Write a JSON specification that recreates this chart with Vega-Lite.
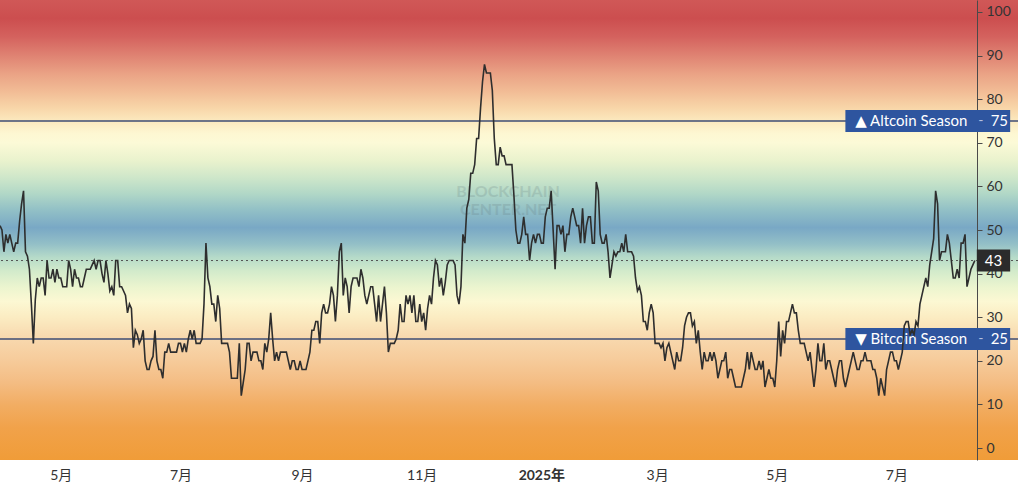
{
  "$schema": "https://vega.github.io/schema/vega-lite/v6.json",
  "width": 1018,
  "height": 460,
  "autosize": {"type": "none"},
  "padding": {"left": 0, "top": 0, "right": 6, "bottom": 29},
  "background": "white",
  "view": {
    "stroke": null,
    "fill": {
      "gradient": "linear", "x1": 0, "y1": 0, "x2": 0, "y2": 1,
      "stops": [
        {"offset": 0.0, "color": "#d05857"},
        {"offset": 0.04, "color": "#cc4e4f"},
        {"offset": 0.08, "color": "#d4625e"},
        {"offset": 0.12, "color": "#df8272"},
        {"offset": 0.16, "color": "#eaa285"},
        {"offset": 0.2, "color": "#f2bd96"},
        {"offset": 0.235, "color": "#f8d6a9"},
        {"offset": 0.26, "color": "#fbe7bc"},
        {"offset": 0.29, "color": "#fdf7d2"},
        {"offset": 0.31, "color": "#fcfad7"},
        {"offset": 0.35, "color": "#e9f2cd"},
        {"offset": 0.385, "color": "#cfe7ca"},
        {"offset": 0.42, "color": "#b2d8c7"},
        {"offset": 0.455, "color": "#93c1c6"},
        {"offset": 0.495, "color": "#79a8c5"},
        {"offset": 0.53, "color": "#93bfc7"},
        {"offset": 0.56, "color": "#b6dbc9"},
        {"offset": 0.59, "color": "#d3ebcb"},
        {"offset": 0.625, "color": "#ecf5cf"},
        {"offset": 0.655, "color": "#fcf8d3"},
        {"offset": 0.69, "color": "#fbecc2"},
        {"offset": 0.73, "color": "#f8dab0"},
        {"offset": 0.78, "color": "#f6cc9c"},
        {"offset": 0.83, "color": "#f4bd84"},
        {"offset": 0.88, "color": "#f2ad63"},
        {"offset": 0.93, "color": "#f1a24a"},
        {"offset": 1.0, "color": "#f09c38"}
      ]
    }
  },
  "config": {
    "font": "Lato, 'DejaVu Sans', 'Noto Sans CJK SC', sans-serif",
    "view": {"stroke": null},
    "scale": {"continuousPadding": 0}
  },
  "datasets": {
    "series": [
      {"date":"2024-03-31","v":51},
      {"date":"2024-04-01","v":50},{"date":"2024-04-02","v":45},{"date":"2024-04-03","v":49},{"date":"2024-04-04","v":47},{"date":"2024-04-05","v":49},{"date":"2024-04-06","v":47},{"date":"2024-04-07","v":45},{"date":"2024-04-08","v":47},{"date":"2024-04-09","v":47},{"date":"2024-04-10","v":52},
      {"date":"2024-04-11","v":56},{"date":"2024-04-12","v":59},{"date":"2024-04-13","v":45},{"date":"2024-04-14","v":44},{"date":"2024-04-15","v":41},{"date":"2024-04-16","v":33},{"date":"2024-04-17","v":24},{"date":"2024-04-18","v":34},{"date":"2024-04-19","v":39},{"date":"2024-04-20","v":37},
      {"date":"2024-04-21","v":39},{"date":"2024-04-22","v":39},{"date":"2024-04-23","v":35},{"date":"2024-04-24","v":43},{"date":"2024-04-25","v":39},{"date":"2024-04-26","v":39},{"date":"2024-04-27","v":41},{"date":"2024-04-28","v":38},{"date":"2024-04-29","v":41},{"date":"2024-04-30","v":39},
      {"date":"2024-05-01","v":39},{"date":"2024-05-02","v":37},{"date":"2024-05-03","v":37},{"date":"2024-05-04","v":37},{"date":"2024-05-05","v":43},{"date":"2024-05-06","v":41},{"date":"2024-05-07","v":37},{"date":"2024-05-08","v":41},{"date":"2024-05-09","v":39},{"date":"2024-05-10","v":39},
      {"date":"2024-05-11","v":37},{"date":"2024-05-12","v":37},{"date":"2024-05-13","v":39},{"date":"2024-05-14","v":41},{"date":"2024-05-15","v":41},{"date":"2024-05-16","v":41},{"date":"2024-05-17","v":42},{"date":"2024-05-18","v":43},{"date":"2024-05-19","v":41},{"date":"2024-05-20","v":43},
      {"date":"2024-05-21","v":43},{"date":"2024-05-22","v":40},{"date":"2024-05-23","v":38},{"date":"2024-05-24","v":43},{"date":"2024-05-25","v":40},{"date":"2024-05-26","v":36},{"date":"2024-05-27","v":37},{"date":"2024-05-28","v":35},{"date":"2024-05-29","v":43},{"date":"2024-05-30","v":43},{"date":"2024-05-31","v":37},
      {"date":"2024-06-01","v":37},{"date":"2024-06-02","v":36},{"date":"2024-06-03","v":35},{"date":"2024-06-04","v":31},{"date":"2024-06-05","v":33},{"date":"2024-06-06","v":32},{"date":"2024-06-07","v":23},{"date":"2024-06-08","v":27},{"date":"2024-06-09","v":26},{"date":"2024-06-10","v":24},
      {"date":"2024-06-11","v":25},{"date":"2024-06-12","v":27},{"date":"2024-06-13","v":20},{"date":"2024-06-14","v":18},{"date":"2024-06-15","v":18},{"date":"2024-06-16","v":20},{"date":"2024-06-17","v":21},{"date":"2024-06-18","v":27},{"date":"2024-06-19","v":20},{"date":"2024-06-20","v":18},
      {"date":"2024-06-21","v":18},{"date":"2024-06-22","v":16},{"date":"2024-06-23","v":22},{"date":"2024-06-24","v":22},{"date":"2024-06-25","v":24},{"date":"2024-06-26","v":22},{"date":"2024-06-27","v":22},{"date":"2024-06-28","v":22},{"date":"2024-06-29","v":22},{"date":"2024-06-30","v":24},
      {"date":"2024-07-01","v":24},{"date":"2024-07-02","v":22},{"date":"2024-07-03","v":24},{"date":"2024-07-04","v":22},{"date":"2024-07-05","v":25},{"date":"2024-07-06","v":27},{"date":"2024-07-07","v":25},{"date":"2024-07-08","v":27},{"date":"2024-07-09","v":24},{"date":"2024-07-10","v":24},
      {"date":"2024-07-11","v":24},{"date":"2024-07-12","v":25},{"date":"2024-07-13","v":33},{"date":"2024-07-14","v":47},{"date":"2024-07-15","v":39},{"date":"2024-07-16","v":37},{"date":"2024-07-17","v":33},{"date":"2024-07-18","v":33},{"date":"2024-07-19","v":29},{"date":"2024-07-20","v":35},
      {"date":"2024-07-21","v":32},{"date":"2024-07-22","v":24},{"date":"2024-07-23","v":24},{"date":"2024-07-24","v":24},{"date":"2024-07-25","v":24},{"date":"2024-07-26","v":22},{"date":"2024-07-27","v":16},{"date":"2024-07-28","v":16},{"date":"2024-07-29","v":16},{"date":"2024-07-30","v":16},{"date":"2024-07-31","v":24},
      {"date":"2024-08-01","v":12},{"date":"2024-08-02","v":15},{"date":"2024-08-03","v":18},{"date":"2024-08-04","v":24},{"date":"2024-08-05","v":24},{"date":"2024-08-06","v":20},{"date":"2024-08-07","v":22},{"date":"2024-08-08","v":22},{"date":"2024-08-09","v":22},{"date":"2024-08-10","v":20},
      {"date":"2024-08-11","v":20},{"date":"2024-08-12","v":18},{"date":"2024-08-13","v":24},{"date":"2024-08-14","v":22},{"date":"2024-08-15","v":25},{"date":"2024-08-16","v":31},{"date":"2024-08-17","v":25},{"date":"2024-08-18","v":20},{"date":"2024-08-19","v":22},{"date":"2024-08-20","v":20},
      {"date":"2024-08-21","v":22},{"date":"2024-08-22","v":22},{"date":"2024-08-23","v":22},{"date":"2024-08-24","v":22},{"date":"2024-08-25","v":20},{"date":"2024-08-26","v":18},{"date":"2024-08-27","v":20},{"date":"2024-08-28","v":20},{"date":"2024-08-29","v":18},{"date":"2024-08-30","v":18},{"date":"2024-08-31","v":20},
      {"date":"2024-09-01","v":18},{"date":"2024-09-02","v":18},{"date":"2024-09-03","v":18},{"date":"2024-09-04","v":20},{"date":"2024-09-05","v":22},{"date":"2024-09-06","v":27},{"date":"2024-09-07","v":27},{"date":"2024-09-08","v":29},{"date":"2024-09-09","v":29},{"date":"2024-09-10","v":24},
      {"date":"2024-09-11","v":31},{"date":"2024-09-12","v":33},{"date":"2024-09-13","v":31},{"date":"2024-09-14","v":31},{"date":"2024-09-15","v":33},{"date":"2024-09-16","v":37},{"date":"2024-09-17","v":35},{"date":"2024-09-18","v":29},{"date":"2024-09-19","v":35},{"date":"2024-09-20","v":45},
      {"date":"2024-09-21","v":47},{"date":"2024-09-22","v":35},{"date":"2024-09-23","v":39},{"date":"2024-09-24","v":37},{"date":"2024-09-25","v":31},{"date":"2024-09-26","v":37},{"date":"2024-09-27","v":39},{"date":"2024-09-28","v":39},{"date":"2024-09-29","v":39},{"date":"2024-09-30","v":37},
      {"date":"2024-10-01","v":41},{"date":"2024-10-02","v":39},{"date":"2024-10-03","v":35},{"date":"2024-10-04","v":33},{"date":"2024-10-05","v":35},{"date":"2024-10-06","v":37},{"date":"2024-10-07","v":37},{"date":"2024-10-08","v":33},{"date":"2024-10-09","v":29},{"date":"2024-10-10","v":35},
      {"date":"2024-10-11","v":29},{"date":"2024-10-12","v":33},{"date":"2024-10-13","v":37},{"date":"2024-10-14","v":31},{"date":"2024-10-15","v":22},{"date":"2024-10-16","v":24},{"date":"2024-10-17","v":24},{"date":"2024-10-18","v":24},{"date":"2024-10-19","v":25},{"date":"2024-10-20","v":27},
      {"date":"2024-10-21","v":33},{"date":"2024-10-22","v":29},{"date":"2024-10-23","v":29},{"date":"2024-10-24","v":35},{"date":"2024-10-25","v":33},{"date":"2024-10-26","v":35},{"date":"2024-10-27","v":31},{"date":"2024-10-28","v":35},{"date":"2024-10-29","v":29},{"date":"2024-10-30","v":29},{"date":"2024-10-31","v":33},
      {"date":"2024-11-01","v":29},{"date":"2024-11-02","v":31},{"date":"2024-11-03","v":27},{"date":"2024-11-04","v":32},{"date":"2024-11-05","v":35},{"date":"2024-11-06","v":33},{"date":"2024-11-07","v":39},{"date":"2024-11-08","v":43},{"date":"2024-11-09","v":42},{"date":"2024-11-10","v":37},
      {"date":"2024-11-11","v":39},{"date":"2024-11-12","v":35},{"date":"2024-11-13","v":38},{"date":"2024-11-14","v":42},{"date":"2024-11-15","v":43},{"date":"2024-11-16","v":43},{"date":"2024-11-17","v":43},{"date":"2024-11-18","v":42},{"date":"2024-11-19","v":35},{"date":"2024-11-20","v":33},
      {"date":"2024-11-21","v":37},{"date":"2024-11-22","v":49},{"date":"2024-11-23","v":47},{"date":"2024-11-24","v":55},{"date":"2024-11-25","v":57},{"date":"2024-11-26","v":63},{"date":"2024-11-27","v":63},{"date":"2024-11-28","v":65},{"date":"2024-11-29","v":71},{"date":"2024-11-30","v":71},
      {"date":"2024-12-01","v":78},{"date":"2024-12-02","v":84},{"date":"2024-12-03","v":88},{"date":"2024-12-04","v":86},{"date":"2024-12-05","v":86},{"date":"2024-12-06","v":86},{"date":"2024-12-07","v":82},{"date":"2024-12-08","v":71},{"date":"2024-12-09","v":65},{"date":"2024-12-10","v":65},
      {"date":"2024-12-11","v":69},{"date":"2024-12-12","v":67},{"date":"2024-12-13","v":67},{"date":"2024-12-14","v":65},{"date":"2024-12-15","v":65},{"date":"2024-12-16","v":65},{"date":"2024-12-17","v":65},{"date":"2024-12-18","v":58},{"date":"2024-12-19","v":50},{"date":"2024-12-20","v":47},
      {"date":"2024-12-21","v":47},{"date":"2024-12-22","v":49},{"date":"2024-12-23","v":53},{"date":"2024-12-24","v":49},{"date":"2024-12-25","v":49},{"date":"2024-12-26","v":43},{"date":"2024-12-27","v":47},{"date":"2024-12-28","v":49},{"date":"2024-12-29","v":47},{"date":"2024-12-30","v":49},{"date":"2024-12-31","v":49},
      {"date":"2025-01-01","v":47},{"date":"2025-01-02","v":47},{"date":"2025-01-03","v":53},{"date":"2025-01-04","v":55},{"date":"2025-01-05","v":55},{"date":"2025-01-06","v":59},{"date":"2025-01-07","v":50},{"date":"2025-01-08","v":41},{"date":"2025-01-09","v":51},{"date":"2025-01-10","v":51},
      {"date":"2025-01-11","v":49},{"date":"2025-01-12","v":51},{"date":"2025-01-13","v":45},{"date":"2025-01-14","v":49},{"date":"2025-01-15","v":49},{"date":"2025-01-16","v":53},{"date":"2025-01-17","v":55},{"date":"2025-01-18","v":53},{"date":"2025-01-19","v":51},{"date":"2025-01-20","v":51},
      {"date":"2025-01-21","v":47},{"date":"2025-01-22","v":55},{"date":"2025-01-23","v":47},{"date":"2025-01-24","v":51},{"date":"2025-01-25","v":53},{"date":"2025-01-26","v":53},{"date":"2025-01-27","v":47},{"date":"2025-01-28","v":47},{"date":"2025-01-29","v":61},{"date":"2025-01-30","v":59},{"date":"2025-01-31","v":49},
      {"date":"2025-02-01","v":47},{"date":"2025-02-02","v":47},{"date":"2025-02-03","v":49},{"date":"2025-02-04","v":45},{"date":"2025-02-05","v":39},{"date":"2025-02-06","v":42},{"date":"2025-02-07","v":45},{"date":"2025-02-08","v":44},{"date":"2025-02-09","v":45},{"date":"2025-02-10","v":45},
      {"date":"2025-02-11","v":47},{"date":"2025-02-12","v":45},{"date":"2025-02-13","v":49},{"date":"2025-02-14","v":45},{"date":"2025-02-15","v":45},{"date":"2025-02-16","v":45},{"date":"2025-02-17","v":44},{"date":"2025-02-18","v":39},{"date":"2025-02-19","v":36},{"date":"2025-02-20","v":37},
      {"date":"2025-02-21","v":35},{"date":"2025-02-22","v":29},{"date":"2025-02-23","v":29},{"date":"2025-02-24","v":27},{"date":"2025-02-25","v":31},{"date":"2025-02-26","v":33},{"date":"2025-02-27","v":31},{"date":"2025-02-28","v":24},
      {"date":"2025-03-01","v":24},{"date":"2025-03-02","v":24},{"date":"2025-03-03","v":23},{"date":"2025-03-04","v":24},{"date":"2025-03-05","v":20},{"date":"2025-03-06","v":23},{"date":"2025-03-07","v":24},{"date":"2025-03-08","v":22},{"date":"2025-03-09","v":20},{"date":"2025-03-10","v":18},
      {"date":"2025-03-11","v":22},{"date":"2025-03-12","v":20},{"date":"2025-03-13","v":20},{"date":"2025-03-14","v":23},{"date":"2025-03-15","v":28},{"date":"2025-03-16","v":30},{"date":"2025-03-17","v":31},{"date":"2025-03-18","v":31},{"date":"2025-03-19","v":28},{"date":"2025-03-20","v":29},
      {"date":"2025-03-21","v":24},{"date":"2025-03-22","v":27},{"date":"2025-03-23","v":22},{"date":"2025-03-24","v":18},{"date":"2025-03-25","v":22},{"date":"2025-03-26","v":20},{"date":"2025-03-27","v":20},{"date":"2025-03-28","v":22},{"date":"2025-03-29","v":20},{"date":"2025-03-30","v":22},{"date":"2025-03-31","v":20},
      {"date":"2025-04-01","v":16},{"date":"2025-04-02","v":18},{"date":"2025-04-03","v":20},{"date":"2025-04-04","v":20},{"date":"2025-04-05","v":22},{"date":"2025-04-06","v":16},{"date":"2025-04-07","v":18},{"date":"2025-04-08","v":18},{"date":"2025-04-09","v":16},{"date":"2025-04-10","v":14},
      {"date":"2025-04-11","v":14},{"date":"2025-04-12","v":14},{"date":"2025-04-13","v":14},{"date":"2025-04-14","v":16},{"date":"2025-04-15","v":18},{"date":"2025-04-16","v":22},{"date":"2025-04-17","v":18},{"date":"2025-04-18","v":22},{"date":"2025-04-19","v":20},{"date":"2025-04-20","v":18},
      {"date":"2025-04-21","v":18},{"date":"2025-04-22","v":20},{"date":"2025-04-23","v":18},{"date":"2025-04-24","v":20},{"date":"2025-04-25","v":14},{"date":"2025-04-26","v":16},{"date":"2025-04-27","v":18},{"date":"2025-04-28","v":16},{"date":"2025-04-29","v":16},{"date":"2025-04-30","v":14},
      {"date":"2025-05-01","v":20},{"date":"2025-05-02","v":29},{"date":"2025-05-03","v":21},{"date":"2025-05-04","v":27},{"date":"2025-05-05","v":24},{"date":"2025-05-06","v":29},{"date":"2025-05-07","v":29},{"date":"2025-05-08","v":31},{"date":"2025-05-09","v":33},{"date":"2025-05-10","v":31},
      {"date":"2025-05-11","v":31},{"date":"2025-05-12","v":27},{"date":"2025-05-13","v":24},{"date":"2025-05-14","v":24},{"date":"2025-05-15","v":24},{"date":"2025-05-16","v":22},{"date":"2025-05-17","v":20},{"date":"2025-05-18","v":22},{"date":"2025-05-19","v":18},{"date":"2025-05-20","v":14},
      {"date":"2025-05-21","v":18},{"date":"2025-05-22","v":24},{"date":"2025-05-23","v":20},{"date":"2025-05-24","v":20},{"date":"2025-05-25","v":24},{"date":"2025-05-26","v":18},{"date":"2025-05-27","v":20},{"date":"2025-05-28","v":20},{"date":"2025-05-29","v":18},{"date":"2025-05-30","v":16},{"date":"2025-05-31","v":14},
      {"date":"2025-06-01","v":18},{"date":"2025-06-02","v":20},{"date":"2025-06-03","v":20},{"date":"2025-06-04","v":16},{"date":"2025-06-05","v":14},{"date":"2025-06-06","v":16},{"date":"2025-06-07","v":18},{"date":"2025-06-08","v":20},{"date":"2025-06-09","v":22},{"date":"2025-06-10","v":20},
      {"date":"2025-06-11","v":18},{"date":"2025-06-12","v":18},{"date":"2025-06-13","v":20},{"date":"2025-06-14","v":20},{"date":"2025-06-15","v":22},{"date":"2025-06-16","v":20},{"date":"2025-06-17","v":20},{"date":"2025-06-18","v":20},{"date":"2025-06-19","v":18},{"date":"2025-06-20","v":18},
      {"date":"2025-06-21","v":16},{"date":"2025-06-22","v":12},{"date":"2025-06-23","v":16},{"date":"2025-06-24","v":14},{"date":"2025-06-25","v":12},{"date":"2025-06-26","v":18},{"date":"2025-06-27","v":20},{"date":"2025-06-28","v":22},{"date":"2025-06-29","v":22},{"date":"2025-06-30","v":20},
      {"date":"2025-07-01","v":20},{"date":"2025-07-02","v":18},{"date":"2025-07-03","v":20},{"date":"2025-07-04","v":22},{"date":"2025-07-05","v":28},{"date":"2025-07-06","v":29},{"date":"2025-07-07","v":29},{"date":"2025-07-08","v":26},{"date":"2025-07-09","v":27},{"date":"2025-07-10","v":26},
      {"date":"2025-07-11","v":29},{"date":"2025-07-12","v":28},{"date":"2025-07-13","v":33},{"date":"2025-07-14","v":35},{"date":"2025-07-15","v":37},{"date":"2025-07-16","v":39},{"date":"2025-07-17","v":37},{"date":"2025-07-18","v":42},{"date":"2025-07-19","v":45},{"date":"2025-07-20","v":48},
      {"date":"2025-07-21","v":59},{"date":"2025-07-22","v":56},{"date":"2025-07-23","v":43},{"date":"2025-07-24","v":45},{"date":"2025-07-25","v":45},{"date":"2025-07-26","v":45},{"date":"2025-07-27","v":49},{"date":"2025-07-28","v":47},{"date":"2025-07-29","v":43},{"date":"2025-07-30","v":39},{"date":"2025-07-31","v":39},
      {"date":"2025-08-01","v":41},{"date":"2025-08-02","v":39},{"date":"2025-08-03","v":47},{"date":"2025-08-04","v":47},{"date":"2025-08-05","v":49},{"date":"2025-08-06","v":37},{"date":"2025-08-07","v":39},{"date":"2025-08-08","v":41},{"date":"2025-08-09","v":42},{"date":"2025-08-10","v":43}
    ],
    "levels": [
      {"v": 75, "label": "▲ Altcoin Season"},
      {"v": 25, "label": "▼ Bitcoin Season"}
    ],
    "current": [{"v": 43}],
    "watermark": [
      {"date": "2024-12-15", "v": 58.8, "text": "BLOCKCHAIN"},
      {"date": "2024-12-15", "v": 54.6, "text": "CENTER.NET"}
    ]
  },
  "layer": [
    {
      "data": {"name": "watermark", "format": {"parse": {"date": "date:'%Y-%m-%d'"}}},
      "mark": {"type": "text", "fontSize": 16, "fontWeight": "bold", "color": "#5f7478", "opacity": 0.2, "align": "center", "baseline": "middle"},
      "encoding": {
        "x": {"field": "date", "type": "temporal", "axis": {"title": null}, "scale": {"domain": [{"year": 2024, "month": 3, "date": 31}, {"year": 2025, "month": 9, "date": 1}], "nice": false, "padding": 0}},
        "y": {"field": "v", "type": "quantitative", "axis": {"title": null}, "scale": {"domain": [-2.75, 102.75], "nice": false, "zero": false, "padding": 0}},
        "text": {"field": "text"}
      }
    },
    {
      "data": {"name": "levels"},
      "mark": {"type": "rule", "color": "#3e4d75", "strokeWidth": 1.6},
      "encoding": {
        "y": {"field": "v", "type": "quantitative", "axis": {"title": null}, "scale": {"domain": [-2.75, 102.75], "nice": false, "zero": false, "padding": 0}}
      }
    },
    {
      "data": {"name": "current"},
      "mark": {"type": "rule", "color": "#555555", "strokeWidth": 1, "strokeDash": [2, 3]},
      "encoding": {
        "y": {"field": "v", "type": "quantitative", "axis": {"title": null}, "scale": {"domain": [-2.75, 102.75], "nice": false, "zero": false, "padding": 0}}
      }
    },
    {
      "data": {"name": "levels"},
      "mark": {"type": "bar", "height": 22, "color": "#2e559f"},
      "encoding": {
        "x": {"datum": {"year": 2025, "month": 6, "date": 5}, "type": "temporal", "axis": {"title": null}, "scale": {"domain": [{"year": 2024, "month": 3, "date": 31}, {"year": 2025, "month": 9, "date": 1}], "nice": false, "padding": 0}},
        "x2": {"datum": {"year": 2025, "month": 8, "date": 28}},
        "y": {"field": "v", "type": "quantitative", "axis": {"title": null}, "scale": {"domain": [-2.75, 102.75], "nice": false, "zero": false, "padding": 0}}
      }
    },
    {
      "data": {"name": "levels"},
      "mark": {"type": "text", "color": "white", "fontSize": 15, "align": "left", "baseline": "middle"},
      "encoding": {
        "x": {"datum": {"year": 2025, "month": 6, "date": 10}, "type": "temporal", "axis": {"title": null}},
        "y": {"field": "v", "type": "quantitative", "axis": {"title": null}},
        "text": {"field": "label"}
      }
    },
    {
      "data": {"name": "levels"},
      "mark": {"type": "text", "color": "#b4c0e0", "fontSize": 14, "align": "center", "baseline": "middle", "text": "-"},
      "encoding": {
        "x": {"datum": {"year": 2025, "month": 8, "date": 13}, "type": "temporal", "axis": {"title": null}},
        "y": {"field": "v", "type": "quantitative", "axis": {"title": null}}
      }
    },
    {
      "data": {"name": "levels"},
      "mark": {"type": "text", "color": "white", "fontSize": 15, "align": "center", "baseline": "middle"},
      "encoding": {
        "x": {"datum": {"year": 2025, "month": 8, "date": 22, "hours": 12}, "type": "temporal", "axis": {"title": null}},
        "y": {"field": "v", "type": "quantitative", "axis": {"title": null}},
        "text": {"field": "v", "type": "quantitative", "format": "d"}
      }
    },
    {
      "data": {"name": "current"},
      "mark": {"type": "bar", "height": 22, "color": "#2b2b2b"},
      "encoding": {
        "x": {"datum": {"year": 2025, "month": 8, "date": 11}, "type": "temporal", "axis": {"title": null}},
        "x2": {"datum": {"year": 2025, "month": 8, "date": 28}},
        "y": {"field": "v", "type": "quantitative", "axis": {"title": null}}
      }
    },
    {
      "data": {"name": "current"},
      "mark": {"type": "text", "color": "white", "fontSize": 15, "align": "center", "baseline": "middle"},
      "encoding": {
        "x": {"datum": {"year": 2025, "month": 8, "date": 19, "hours": 12}, "type": "temporal", "axis": {"title": null}},
        "y": {"field": "v", "type": "quantitative", "axis": {"title": null}},
        "text": {"field": "v", "type": "quantitative", "format": "d"}
      }
    },
    {
      "data": {"name": "series", "format": {"parse": {"date": "date:'%Y-%m-%d'"}}},
      "mark": {"type": "line", "color": "#2e2e2e", "strokeWidth": 1.6, "interpolate": "linear"},
      "encoding": {
        "x": {
          "field": "date", "type": "temporal",
          "scale": {"domain": [{"year": 2024, "month": 3, "date": 31}, {"year": 2025, "month": 9, "date": 1}], "nice": false, "padding": 0},
          "axis": {
            "title": null,
            "orient": "bottom",
            "values": [
              {"year": 2024, "month": 5, "date": 1},
              {"year": 2024, "month": 7, "date": 1},
              {"year": 2024, "month": 9, "date": 1},
              {"year": 2024, "month": 11, "date": 1},
              {"year": 2025, "month": 1, "date": 1},
              {"year": 2025, "month": 3, "date": 1},
              {"year": 2025, "month": 5, "date": 1},
              {"year": 2025, "month": 7, "date": 1}
            ],
            "labelExpr": "month(datum.value) == 0 ? year(datum.value) + '年' : (month(datum.value) + 1) + '月'",
            "labelFontWeight": {"condition": {"test": "month(datum.value) == 0", "value": "bold"}, "value": "normal"},
            "labelFontSize": 14,
            "labelColor": "#333333",
            "labelPadding": 8,
            "labelFlush": false,
            "labelOverlap": false,
            "ticks": false,
            "domain": false,
            "grid": false
          }
        },
        "y": {
          "field": "v", "type": "quantitative",
          "scale": {"domain": [-2.75, 102.75], "nice": false, "zero": false, "padding": 0},
          "axis": {
            "title": null,
            "orient": "right",
            "offset": -41,
            "values": [0, 10, 20, 30, 40, 50, 60, 70, 80, 90, 100],
            "grid": false,
            "domainColor": "#4a4a4a",
            "domainWidth": 1,
            "tickColor": "#4a4a4a",
            "tickSize": 5,
            "labelColor": "#333333",
            "labelFontSize": 14,
            "labelPadding": 4,
            "labelFlush": false,
            "labelOverlap": false
          }
        }
      }
    }
  ]
}
